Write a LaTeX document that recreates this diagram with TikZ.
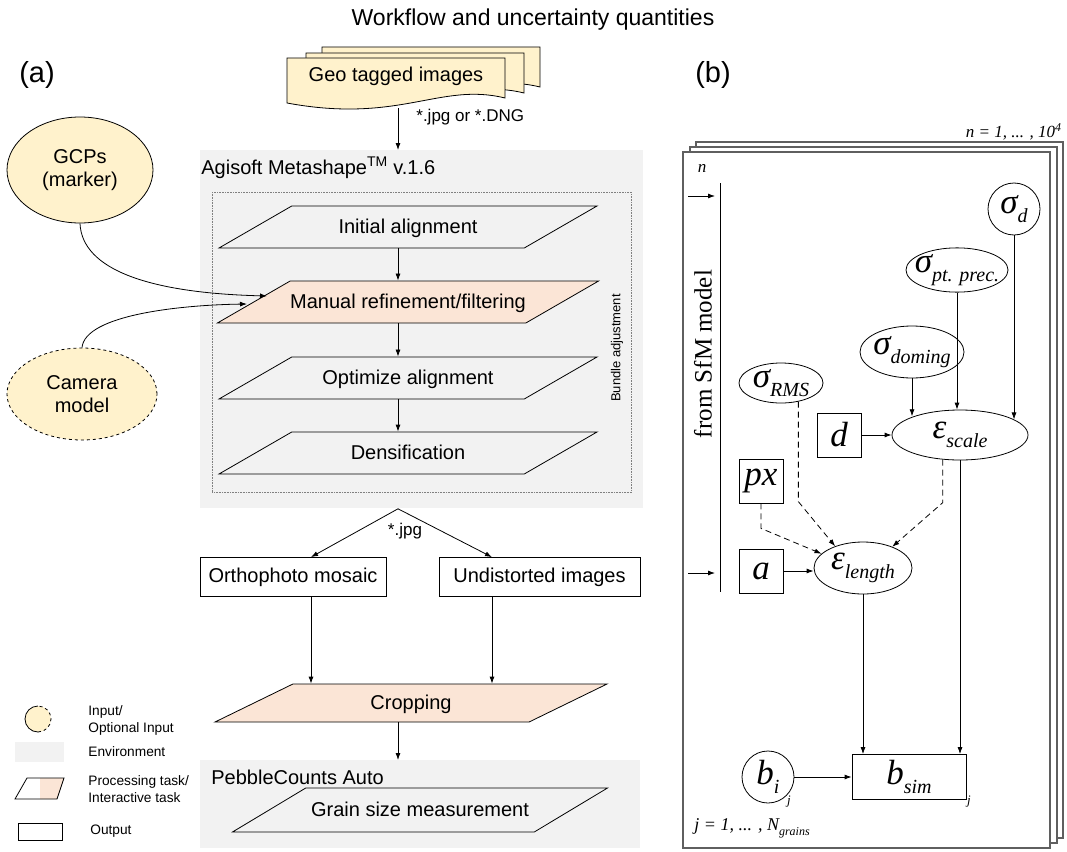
\documentclass[tikz,border=0pt]{standalone}
\usepackage{fontspec}
\setmainfont{Liberation Sans}
\newfontfamily\tmsfont{Liberation Serif}
\usepackage{tikz}
\usetikzlibrary{arrows.meta,shapes.geometric,calc}
\definecolor{GrisEntorno}{RGB}{242,242,242}
\definecolor{AmarilloEntrada}{RGB}{255,242,204}
\definecolor{SalmonTarea}{RGB}{251,229,214}
\definecolor{GrisMarco}{RGB}{95,95,95}
\newcommand{\bajo}[1]{\raisebox{-9pt}{\fontsize{20}{20}\selectfont#1}}
\tikzset{
  entorno/.style={fill=GrisEntorno,draw=none,inner sep=0pt,anchor=north west},
  tarea/.style={trapezium,trapezium left angle=30,trapezium right angle=150,
    trapezium stretches body,draw,fill=GrisEntorno,inner sep=0pt,
    text height=27pt,text depth=15pt,
    minimum width=378pt,font=\fontsize{20}{24}\selectfont},
  interactiva/.style={tarea,fill=SalmonTarea},
  salida/.style={rectangle,draw,fill=white,minimum height=39pt,inner sep=0pt,
    font=\fontsize{20}{24}\selectfont},
  entrada/.style={ellipse,draw,fill=AmarilloEntrada,inner sep=0pt,align=center,
    font=\fontsize{20}{23}\selectfont},
  rotulo/.style={inner sep=0pt,font=\fontsize{20}{24}\selectfont},
  leyenda/.style={anchor=west,align=left,inner sep=0pt,font=\fontsize{13.7}{17}\selectfont},
  var/.style={ellipse,draw,fill=white,inner sep=0pt,font=\tmsfont\itshape\fontsize{35}{35}\selectfont},
  dato/.style={rectangle,draw,fill=white,minimum size=44pt,inner sep=0pt,
    font=\tmsfont\itshape\fontsize{35}{35}\selectfont},
  italica/.style={inner sep=0pt,font=\tmsfont\itshape\fontsize{17}{17}\selectfont},
  hoja/.style={draw=GrisMarco,line width=1.2pt,fill=white},
  incierto/.style={->,dash pattern=on 6pt off 4pt}
}

\begin{document}
\begin{tikzpicture}[x=1pt,y=-1pt,>={Latex[length=7pt,width=5pt]},line width=0.8pt]
  \useasboundingbox (0,0) rectangle (1067,851);
  \node[font=\fontsize{23}{23}\selectfont] (titulo) at (533,20) {Workflow and uncertainty quantities};
  \node[font=\fontsize{29}{29}\selectfont] (pa) at (37,75) {(a)};
  \node[font=\fontsize{29}{29}\selectfont] (pb) at (713,75) {(b)};

  % (a) workflow
  \coordinate (eje) at (398,0);
  \coordinate (izq) at (311,0);
  \coordinate (der) at (492,0);
  \node[entorno,minimum width=443pt,minimum height=358pt] (agi) at (200,150) {};
  \node[entorno,minimum width=440pt,minimum height=88pt] (pc) at (200,760) {};
  \node[draw=gray,densely dotted,line width=0.6pt,inner sep=0pt,anchor=north west,
    minimum width=419pt,minimum height=300pt] (ba) at (212,192) {};
  \node[rotulo,anchor=west] (agilbl) at (201,168) {Agisoft Metashape\textsuperscript{TM} v.1.6};
  \node[rotulo,anchor=west] (pclbl) at (211,777) {PebbleCounts Auto};
  \node[inner sep=0pt,rotate=90,font=\fontsize{13}{13}\selectfont] (balbl) at (617,348) {Bundle adjustment};

  \foreach \dx/\dy in {35/-11,19/-5,0/0}
    \draw[fill=AmarilloEntrada,shift={(\dx,\dy)}] (287,58) -- (505,58) -- (505,98)
      .. controls (440,82) and (400,124) .. (287,103) -- cycle;
  \node[rotulo] (geo) at (396,76) {Geo tagged images};
  \coordinate (geoout) at (398,108);
  \node[rotulo,anchor=west,font=\fontsize{17}{17}\selectfont] (ext) at (416,117) {*.jpg or *.DNG};

  \node[tarea] (ia) at (408,227) {Initial alignment};
  \node[interactiva] (mr) at (408,302) {Manual refinement/filtering};
  \node[tarea] (oa) at (408,378) {Optimize alignment};
  \node[tarea] (den) at (408,453) {Densification};

  \node[entrada,minimum width=146pt,minimum height=106pt] (gcp) at (80,170) {GCPs\\(marker)};
  \node[entrada,dashed,minimum width=150pt,minimum height=92pt] (cam) at (82,394) {Camera\\model};

  \node[salida,minimum width=186pt] (orto) at (293,577) {Orthophoto mosaic};
  \node[salida,minimum width=201pt] (und) at (539.5,577) {Undistorted images};
  \coordinate (fork) at (agi.south -| eje);
  \node[rotulo,font=\fontsize{17}{17}\selectfont] (jpg) at (405,531) {*.jpg};

  \node[interactiva,trapezium left angle=26,trapezium right angle=154,
    text height=25pt,text depth=13pt,minimum width=392pt] (crop) at (411,703) {Cropping};
  \node[tarea,trapezium left angle=31,trapezium right angle=149,
    text height=28pt,text depth=16pt,minimum width=375pt] (gsm) at (420,810) {Grain size measurement};

  \draw[->] (geoout) -- (agi.north -| eje);
  \draw[->] (ia.south -| eje) -- (mr.north -| eje);
  \draw[->] (mr.south -| eje) -- (oa.north -| eje);
  \draw[->] (oa.south -| eje) -- (den.north -| eje);
  \draw[->] (fork) -- (orto.north -| izq);
  \draw[->] (fork) -- (und.north -| der);
  \draw[->] (orto.south -| izq) -- (crop.north -| izq);
  \draw[->] (und.south -| der) -- (crop.north -| der);
  \draw[->] (crop.south -| eje) -- (pc.north -| eje);
  \draw[->] (gcp.south) .. controls (82,270) and (150,293) .. ([shift={(14,-6)}]mr.west);
  \draw[->] (cam.north) .. controls (85,315) and (180,305) .. ([shift={(-6,2)}]mr.west);

  % legend
  \fill[AmarilloEntrada] (38,719) circle (13pt);
  \draw (38,706) arc[start angle=90,end angle=270,radius=13pt];
  \draw[dashed] (38,732) arc[start angle=-90,end angle=90,radius=13pt];
  \fill[GrisEntorno] (15,742) rectangle (64,762);
  \fill[SalmonTarea] (40,778) -- (64,778) -- (57,799) -- (40,799) -- cycle;
  \draw (15,799) -- (27,778) -- (64,778) -- (57,799) -- cycle;
  \draw (18,823) rectangle (62,840);
  \node[leyenda] (lin) at (88,720) {Input/\\Optional Input};
  \node[leyenda] (lenv) at (88,752) {Environment};
  \node[leyenda] (ltask) at (88,789) {Processing task/\\Interactive task};
  \node[leyenda] (lout) at (90,831) {Output};

  % (b) uncertainty model
  \foreach \dx/\dy in {13/-10,7/-5,0/0}
    \draw[hoja,shift={(\dx,\dy)}] (683,152) rectangle (1050,848);
  \node[italica,anchor=east] (rep) at (1062,132) {n = 1, ... , 10\textsuperscript{4}};
  \node[italica] (nn) at (702,168) {n};
  \node[italica,anchor=west,font=\tmsfont\itshape\fontsize{18}{18}\selectfont] (jj) at (694,828)
    {j = 1, ... , N\raisebox{-5pt}{\fontsize{12}{12}\selectfont grains}};
  \draw (720,183) -- (720,592);
  \draw[->] (688,196) -- ++(27,0);
  \draw[->] (688,573) -- ++(27,0);
  \node[inner sep=0pt,rotate=90,font=\tmsfont\fontsize{25}{25}\selectfont] (sfm) at (703,354) {from SfM model};

  \node[var,circle,minimum size=52pt] (sd) at (1014,209) {σ\bajo{d}};
  \node[var,minimum width=102pt,minimum height=44pt,inner xsep=-14pt] (spp) at (957,270) {σ\bajo{pt. prec.}};
  \node[var,minimum width=104pt,minimum height=52pt,inner xsep=-6pt] (sdom) at (912,352) {σ\bajo{doming}};
  \node[var,minimum width=84pt,minimum height=40pt] (srms) at (781,383) {σ\bajo{RMS}};
  \node[dato] (d) at (839,435) {d};
  \node[var,minimum width=136pt,minimum height=50pt] (es) at (960,435) {ε\bajo{scale}};
  \node[dato] (px) at (761,481) {px};
  \node[dato] (a) at (761,571) {a};
  \node[var,minimum width=98pt,minimum height=52pt] (el) at (863,568) {ε\bajo{length}};
  \node[var,circle,minimum size=52pt] (bi) at (768,777) {b\bajo{i}};
  \node[dato,minimum width=114pt,minimum height=45pt] (bs) at (909,777) {b\bajo{sim}};
  \node[italica,font=\tmsfont\itshape\fontsize{13}{13}\selectfont] (jbi) at (789,802) {j};
  \node[italica,font=\tmsfont\itshape\fontsize{13}{13}\selectfont] (jbs) at (969,802) {j};

  \draw[->] (sd) -- (sd |- es.16);
  \draw[->] (spp) -- (spp |- es.north);
  \draw[->] (sdom) -- (sdom |- es.158);
  \draw[->] (d) -- (es);
  \draw[->] (a) -- (a -| el.west);
  \draw[incierto] (srms.-47) -- ++(0,100) -- (el.142);
  \draw[incierto] (px.south) -- ++(0,25) -- (el.161);
  \draw[incierto] (es.-125) -- ++(0,43) -- (el.36);
  \draw[->] (el) -- (el |- bs.north);
  \draw[->] (es) -- (es |- bs.north);
  \draw[->] (bi) -- (bs);
\end{tikzpicture}
\end{document}
